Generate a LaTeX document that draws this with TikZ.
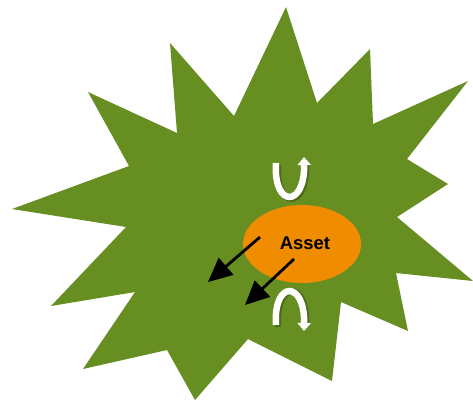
\documentclass[tikz,border=0pt]{standalone}
\usepackage{fontspec}
\setsansfont{Liberation Sans}
\usetikzlibrary{positioning,shapes,arrows.meta}
\definecolor{leafgreen}{RGB}{102,142,33}
\definecolor{assetorange}{RGB}{240,140,0}

\begin{document}
\begin{tikzpicture}[x=1bp, y=-1bp,
    burst/.style={fill=leafgreen, draw=none},
    asset/.style={ellipse, fill=assetorange, minimum width=118bp, minimum height=78bp, inner sep=0pt, font=\sffamily\bfseries\fontsize{18.5}{20}\selectfont},
    leak/.style={-{Triangle[length=24bp,width=22bp]}, line width=2.8bp, black},
    turn/.style={-{Triangle[length=8bp,width=13bp]}, line width=6.5bp, white},
    turnshadow/.style={line width=6.5bp, black, opacity=0.25}
]
    \useasboundingbox (0,0) rectangle (473,401);

    % the burst
    \fill [burst] (286,7) -- (317,103) -- (370,49) -- (373,124) -- (468,81)
        -- (407,159) -- (448,184) -- (397,217) -- (473,281) -- (396,273)
        -- (408,331) -- (341,302) -- (332,381) -- (248,339) -- (195,400)
        -- (167,350) -- (83,369) -- (135,292) -- (51,306) -- (126,227)
        -- (12,209) -- (129,166) -- (88,92) -- (177,133) -- (170,43)
        -- (234,116) -- cycle;

    % asset
    \node [asset] (asset) at (302,244) {\raisebox{2bp}{\hspace{6bp}Asset}};

    % leaks out of the asset
    \coordinate (leakA) at (260,237);
    \coordinate (leakB) at (294,259);
    \coordinate (outA) at (208,282);
    \coordinate (outB) at (245,305);
    \draw [leak] (leakA) -- (outA);
    \draw [leak] (leakB) -- (outB);

    % turns above and below
    \coordinate (upL) at (276,163);
    \coordinate (upR) at (304,157);
    \coordinate (downL) at (276,325);
    \coordinate (downR) at (304,331);
    \draw [turnshadow] ([shift={(2,2)}]upL) .. controls (275,210) and (307,210) .. ([shift={(2,8)}]upR);
    \draw [turnshadow] ([shift={(2,2)}]downL) .. controls (275,280) and (307,280) .. ([shift={(2,-8)}]downR);
    \draw [turn] (upL) .. controls (273,208) and (305,208) .. (upR);
    \draw [turn] (downL) .. controls (273,280) and (305,280) .. (downR);
\end{tikzpicture}
\end{document}
